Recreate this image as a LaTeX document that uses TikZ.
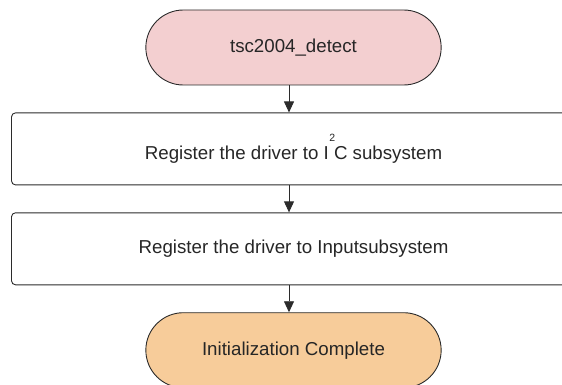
\documentclass[tikz,border=0pt]{standalone}
\usepackage{fontspec}
\setmainfont{Liberation Sans}
\usetikzlibrary{arrows.meta}
\usetikzlibrary{positioning}
\usetikzlibrary{shapes.misc}
\definecolor{startpink}{HTML}{F3CFD0}
\definecolor{endorange}{HTML}{F7CC9A}
\definecolor{edge}{HTML}{2B2B2B}
\tikzset {
  flow node/.style = {
    draw = edge,
    line width = 0.9pt,
    font = \fontsize{18.7}{21}\selectfont,
    text = black!85
  },
  % start and end symbol
  term/.style = {
    flow node,
    rounded rectangle,
    minimum width = 302pt,
    minimum height = 75pt
  },
  % processing step
  stepbox/.style = {
    flow node,
    rectangle,
    rounded corners = 4pt,
    minimum width = 564pt,
    minimum height = 72pt
  },
  flow/.style = {
    draw = edge,
    line width = 0.9pt,
    -{Triangle[length = 11pt, width = 10pt]}
  },
  node distance = 27pt
}

\begin{document}
\begin{tikzpicture}
    \useasboundingbox (0,0) rectangle (562pt,-385pt);

    \node[term, fill = startpink] (detect) at (293.5pt,-47.5pt) {tsc2004\_detect};
    \node[stepbox] (regi2c) [below=of detect]
      {Register the driver to I\rlap{\kern0.5pt\raisebox{1.75ex}{\fontsize{10.5}{10}\selectfont 2}} C subsystem};
    \node[stepbox] (reginput) [below=of regi2c] {Register the driver to Inputsubsystem};
    \node[term, fill = endorange] (done) [below=of reginput] {Initialization Complete};

    % the connectors run a little left of the middle
    \draw[flow] ([xshift=-4.5pt]detect.south) -- ([xshift=-4.5pt]regi2c.north);
    \draw[flow] ([xshift=-4.5pt]regi2c.south) -- ([xshift=-4.5pt]reginput.north);
    \draw[flow] ([xshift=-4.5pt]reginput.south) -- ([xshift=-4.5pt]done.north);
  \end{tikzpicture}
\end{document}
